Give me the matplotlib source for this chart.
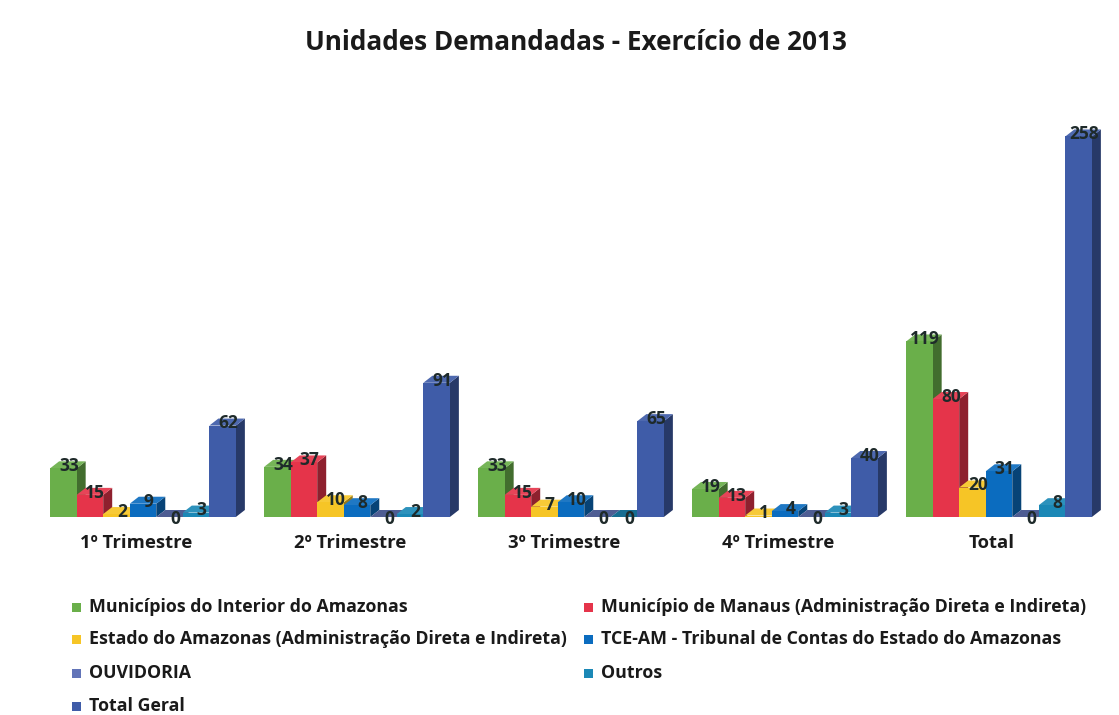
import matplotlib
matplotlib.use("Agg")
import matplotlib.pyplot as plt
import matplotlib.colors as mc
from matplotlib.patches import Polygon, Rectangle
import numpy as np

categories = ["1º Trimestre", "2º Trimestre", "3º Trimestre", "4º Trimestre", "Total"]
series_names = [
    "Municípios do Interior do Amazonas",
    "Município de Manaus (Administração Direta e Indireta)",
    "Estado do Amazonas (Administração Direta e Indireta)",
    "TCE-AM - Tribunal de Contas do Estado do Amazonas",
    "OUVIDORIA",
    "Outros",
    "Total Geral",
]
municipios_interior = [33, 34, 33, 19, 119]
municipio_manaus = [15, 37, 15, 13, 80]
estado_amazonas = [2, 10, 7, 1, 20]
tce_am = [9, 8, 10, 4, 31]
ouvidoria = [0, 0, 0, 0, 0]
outros = [3, 2, 0, 3, 8]
total_geral = [62, 91, 65, 40, 258]
series_values = [municipios_interior, municipio_manaus, estado_amazonas,
                 tce_am, ouvidoria, outros, total_geral]
colors = ["#6aaf4a", "#e5344a", "#f6c526", "#0b6cbf", "#6274b8", "#1b88b6", "#3f5ca8"]

FONT = ["Open Sans", "DejaVu Sans"]
plt.rcParams["font.family"] = FONT

W, H = 1119, 715
fig = plt.figure(figsize=(W / 100, H / 100), dpi=100)

# axes placement in pixels
L, R, T, B = 40, 1110, 110, 517
ax = fig.add_axes([L / W, (H - B) / H, (R - L) / W, (B - T) / H])
step = 214.0
x0 = 143.0
ax.set_xlim((L - x0) / step, (R - x0) / step)
ppu = 1.475
ax.set_ylim(0, (B - T) / ppu)
ax.axis("off")

nser = len(series_values)
bw = 0.124
dx = 9 / step
dy = 7 / ppu
xs = np.arange(len(categories))


def darker(c, f):
    r, g, b = mc.to_rgb(c)
    return (r * f, g * f, b * f)


def lighter(c, f):
    r, g, b = mc.to_rgb(c)
    return (r + (1 - r) * f, g + (1 - g) * f, b + (1 - b) * f)


for gi in range(len(categories)):
    for si in range(nser):
        v = series_values[si][gi]
        c = colors[si]
        left = xs[gi] - nser * bw / 2 + si * bw
        right = left + bw
        z = 2 + si * 0.01
        side = Polygon([(right, 0), (right + dx, dy), (right + dx, v + dy), (right, v)],
                       closed=True, facecolor=darker(c, 0.62), edgecolor="none", zorder=z)
        ax.add_patch(side)
        top = Polygon([(left, v), (left + dx, v + dy), (right + dx, v + dy), (right, v)],
                      closed=True, facecolor=lighter(c, 0.08) if v > 0 else darker(c, 0.8),
                      edgecolor="none", zorder=z)
        ax.add_patch(top)
        ax.bar(left, v, width=bw, align="edge", color=c, zorder=z + 0.005, edgecolor="none")

# value labels
for gi in range(len(categories)):
    for si in range(nser):
        v = series_values[si][gi]
        left = xs[gi] - nser * bw / 2 + si * bw
        cx = left + bw / 2 + dx * 0.6
        y = v + dy * 0.3 if v > 0 else -1.5
        ax.text(cx, y, str(v), ha="center", va="center", fontsize=12.5,
                fontweight="bold", color="#1e2a2a", zorder=10)

# category labels
for gi, cat in enumerate(categories):
    ax.text(xs[gi] - 7 / step, -17.5, cat, ha="center", va="center", fontsize=13.3,
            fontweight="bold", color="#1a1a1a", clip_on=False)

fig.text(576 / W, 1 - 42 / H, "Unidades Demandadas - Exercício de 2013",
         ha="center", va="center", fontsize=18.8, fontweight="bold", color="#1a1a1a")

# legend (row-wise, two columns)
col_x = [76, 588]
row_y = [607, 639, 673, 706]
for i, name in enumerate(series_names):
    r, ccol = divmod(i, 2)
    mx = col_x[ccol]
    my = row_y[r]
    fig.patches.append(Rectangle(((mx - 4.5) / W, 1 - (my + 4.5) / H), 9 / W, 9 / H,
                                 transform=fig.transFigure, facecolor=colors[i],
                                 edgecolor="none"))
    fig.text((mx + 13) / W, 1 - my / H, name, ha="left", va="center",
             fontsize=12.8, fontweight="bold", color="#1a1a1a")

fig.savefig("out.png", dpi=100, facecolor="white")
